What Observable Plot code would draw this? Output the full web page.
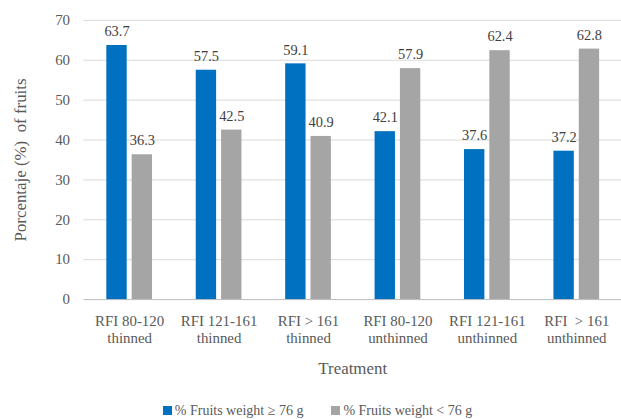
<!DOCTYPE html>
<html>
<head>
<meta charset="utf-8">
<script src="https://cdn.jsdelivr.net/npm/d3@7"></script>
<script src="https://cdn.jsdelivr.net/npm/@observablehq/plot@0.6"></script>
<style>
  html, body { margin: 0; padding: 0; background: #fff; overflow: hidden; }
  #chart svg { display: block; }
  .legend {
    font-family: "Liberation Serif", "Times New Roman", serif;
    font-size: 14px; color: #595959;
    display: flex; justify-content: center; gap: 28px;
    width: 621px; padding-top: 14px; padding-left: 14px; box-sizing: border-box;
  }
  .legend span.sw { display: inline-block; width: 9px; height: 9px; margin-right: 3px; }
</style>
</head>
<body>
<div id="chart"></div>
<script>
// Treatments (tick labels, two lines each)
const treatments = [
  "RFI 80-120\nthinned",
  "RFI 121-161\nthinned",
  "RFI > 161\nthinned",
  "RFI 80-120\nunthinned",
  "RFI 121-161\nunthinned",
  "RFI  > 161\nunthinned"
];
// Share of fruits per weight class (%)
const heavyShare = [63.7, 57.5, 59.1, 42.1, 37.6, 37.2];   // >= 76 g
const lightShare = [36.3, 42.5, 40.9, 57.9, 62.4, 62.8];   // < 76 g
const yTicks = [0, 10, 20, 30, 40, 50, 60, 70];

const seriesNames = ["% Fruits weight \u2265 76 g", "% Fruits weight < 76 g"];
const colors = ["#0070c0", "#a5a5a5"];

const heavy = treatments.map((t, i) => ({treatment: t, value: heavyShare[i]}));
const light = treatments.map((t, i) => ({treatment: t, value: lightShare[i]}));

const font = "Liberation Serif, Times New Roman, serif";
const barW = 20.5;   // bar width inside each 46px band

const chart = Plot.plot({
  width: 625,
  height: 392,
  marginLeft: 84,
  marginRight: 0,
  marginTop: 20,
  marginBottom: 91,
  style: {fontFamily: font, color: "#595959", background: "#fff"},
  x: {domain: treatments, paddingInner: 0.49, paddingOuter: 0.245},
  y: {domain: [0, 70]},
  marks: [
    Plot.gridY(yTicks, {stroke: "#d9d9d9", strokeOpacity: 1}),
    Plot.ruleY([0], {stroke: "#bfbfbf"}),
    Plot.barY(heavy, {x: "treatment", y: "value", fill: colors[0], insetRight: 46 - barW}),
    Plot.barY(light, {x: "treatment", y: "value", fill: colors[1], insetLeft: 46 - barW}),
    Plot.text(heavy, {x: "treatment", y: "value", text: d => d.value.toFixed(1),
      dx: -(46 - barW) / 2, dy: -14, fontSize: 14.5, fill: "#404040"}),
    Plot.text(light, {x: "treatment", y: "value", text: d => d.value.toFixed(1),
      dx: (46 - barW) / 2, dy: -14, fontSize: 14.5, fill: "#404040"}),
    Plot.axisY(yTicks, {tickSize: 0, tickPadding: 14, fontSize: 15, fill: "#595959",
      label: "Porcentaje (%)  of fruits", labelAnchor: "center", labelOffset: 70}),
    Plot.axisX({tickSize: 0, tickPadding: 14, fontSize: 15, lineHeight: 1.15, fill: "#595959",
      label: "Treatment", labelAnchor: "center", labelOffset: 75})
  ]
});

// axis titles: larger type, no direction arrows
chart.querySelectorAll("[aria-label='y-axis label'] text, [aria-label='x-axis label'] text")
  .forEach(t => {
    t.setAttribute("font-size", "17");
    t.textContent = t.textContent.replace(/\s*[\u2191\u2192\u2190\u2193]\s*/g, "");
  });

document.getElementById("chart").appendChild(chart);

const legend = document.createElement("div");
legend.className = "legend";
seriesNames.forEach((name, i) => {
  const item = document.createElement("div");
  const sw = document.createElement("span");
  sw.className = "sw";
  sw.style.background = colors[i];
  item.appendChild(sw);
  item.appendChild(document.createTextNode(name));
  legend.appendChild(item);
});
document.body.appendChild(legend);
</script>
</body>
</html>
